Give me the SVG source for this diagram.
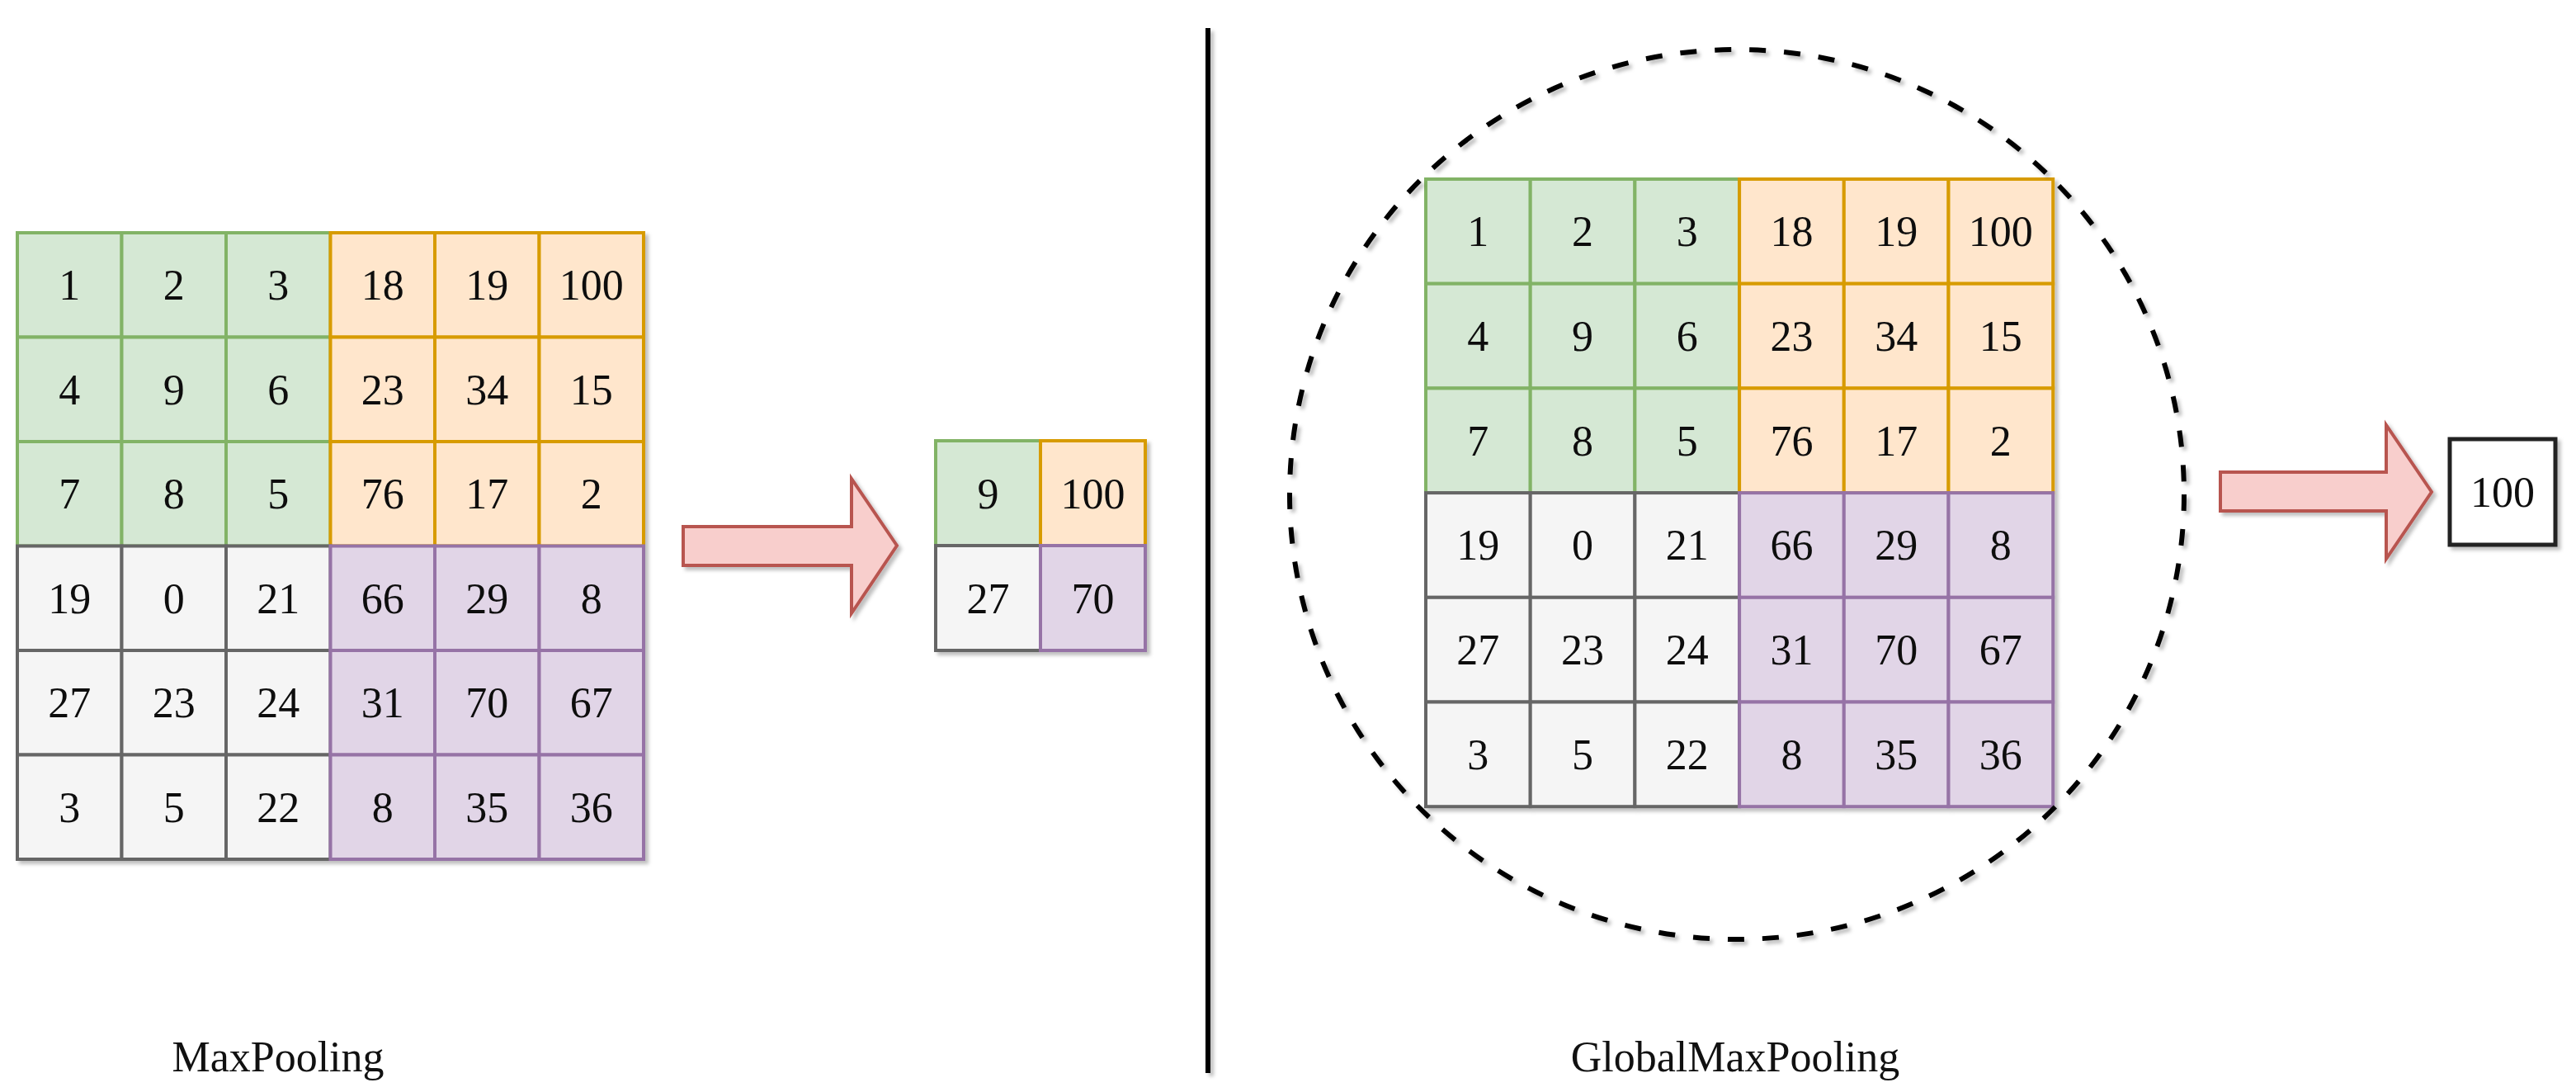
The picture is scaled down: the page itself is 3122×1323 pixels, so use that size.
<svg xmlns="http://www.w3.org/2000/svg" width="3122" height="1323" viewBox="0 0 3122 1323">
<style>
.g{fill:#d5e8d4;stroke:#82b366;stroke-width:4}
.o{fill:#ffe6cc;stroke:#d79b00;stroke-width:4}
.s{fill:#f5f5f5;stroke:#666666;stroke-width:4}
.p{fill:#e1d5e7;stroke:#9673a6;stroke-width:4}
.w{fill:#ffffff;stroke:#222222;stroke-width:5}
.t{font-family:"Liberation Serif","Times New Roman",serif;font-size:52px;fill:#111111;text-anchor:middle}
.arr{fill:#f8cecc;stroke:#b85450;stroke-width:4;stroke-linejoin:miter}
</style>
<defs>
<filter id="sh" x="-5%" y="-5%" width="115%" height="115%">
<feDropShadow dx="4" dy="4" stdDeviation="2" flood-color="#000" flood-opacity="0.25"/>
</filter>
<filter id="shl" filterUnits="userSpaceOnUse" x="1440" y="20" width="50" height="1300">
<feDropShadow dx="4" dy="4" stdDeviation="2" flood-color="#000" flood-opacity="0.25"/>
</filter>
</defs>
<rect width="3122" height="1323" fill="#ffffff"/>

<!-- Left 6x6 grid -->
<g id="grid-left" filter="url(#sh)">
<g id="L11"><rect class="g" x="21" y="282" width="126.5" height="126.5"/><text class="t" x="84.25" y="363">1</text></g>
<g id="L12"><rect class="g" x="147.5" y="282" width="126.5" height="126.5"/><text class="t" x="210.75" y="363">2</text></g>
<g id="L13"><rect class="g" x="274" y="282" width="126.5" height="126.5"/><text class="t" x="337.25" y="363">3</text></g>
<g id="L21"><rect class="g" x="21" y="408.5" width="126.5" height="126.5"/><text class="t" x="84.25" y="490">4</text></g>
<g id="L22"><rect class="g" x="147.5" y="408.5" width="126.5" height="126.5"/><text class="t" x="210.75" y="490">9</text></g>
<g id="L23"><rect class="g" x="274" y="408.5" width="126.5" height="126.5"/><text class="t" x="337.25" y="490">6</text></g>
<g id="L31"><rect class="g" x="21" y="535" width="126.5" height="126.5"/><text class="t" x="84.25" y="616">7</text></g>
<g id="L32"><rect class="g" x="147.5" y="535" width="126.5" height="126.5"/><text class="t" x="210.75" y="616">8</text></g>
<g id="L33"><rect class="g" x="274" y="535" width="126.5" height="126.5"/><text class="t" x="337.25" y="616">5</text></g>
<g id="L14"><rect class="o" x="400.5" y="282" width="126.5" height="126.5"/><text class="t" x="463.75" y="363">18</text></g>
<g id="L15"><rect class="o" x="527" y="282" width="126.5" height="126.5"/><text class="t" x="590.25" y="363">19</text></g>
<g id="L16"><rect class="o" x="653.5" y="282" width="126.5" height="126.5"/><text class="t" x="716.75" y="363">100</text></g>
<g id="L24"><rect class="o" x="400.5" y="408.5" width="126.5" height="126.5"/><text class="t" x="463.75" y="490">23</text></g>
<g id="L25"><rect class="o" x="527" y="408.5" width="126.5" height="126.5"/><text class="t" x="590.25" y="490">34</text></g>
<g id="L26"><rect class="o" x="653.5" y="408.5" width="126.5" height="126.5"/><text class="t" x="716.75" y="490">15</text></g>
<g id="L34"><rect class="o" x="400.5" y="535" width="126.5" height="126.5"/><text class="t" x="463.75" y="616">76</text></g>
<g id="L35"><rect class="o" x="527" y="535" width="126.5" height="126.5"/><text class="t" x="590.25" y="616">17</text></g>
<g id="L36"><rect class="o" x="653.5" y="535" width="126.5" height="126.5"/><text class="t" x="716.75" y="616">2</text></g>
<g id="L41"><rect class="s" x="21" y="661.5" width="126.5" height="126.5"/><text class="t" x="84.25" y="743">19</text></g>
<g id="L42"><rect class="s" x="147.5" y="661.5" width="126.5" height="126.5"/><text class="t" x="210.75" y="743">0</text></g>
<g id="L43"><rect class="s" x="274" y="661.5" width="126.5" height="126.5"/><text class="t" x="337.25" y="743">21</text></g>
<g id="L51"><rect class="s" x="21" y="788" width="126.5" height="126.5"/><text class="t" x="84.25" y="869">27</text></g>
<g id="L52"><rect class="s" x="147.5" y="788" width="126.5" height="126.5"/><text class="t" x="210.75" y="869">23</text></g>
<g id="L53"><rect class="s" x="274" y="788" width="126.5" height="126.5"/><text class="t" x="337.25" y="869">24</text></g>
<g id="L61"><rect class="s" x="21" y="914.5" width="126.5" height="126.5"/><text class="t" x="84.25" y="996">3</text></g>
<g id="L62"><rect class="s" x="147.5" y="914.5" width="126.5" height="126.5"/><text class="t" x="210.75" y="996">5</text></g>
<g id="L63"><rect class="s" x="274" y="914.5" width="126.5" height="126.5"/><text class="t" x="337.25" y="996">22</text></g>
<g id="L44"><rect class="p" x="400.5" y="661.5" width="126.5" height="126.5"/><text class="t" x="463.75" y="743">66</text></g>
<g id="L45"><rect class="p" x="527" y="661.5" width="126.5" height="126.5"/><text class="t" x="590.25" y="743">29</text></g>
<g id="L46"><rect class="p" x="653.5" y="661.5" width="126.5" height="126.5"/><text class="t" x="716.75" y="743">8</text></g>
<g id="L54"><rect class="p" x="400.5" y="788" width="126.5" height="126.5"/><text class="t" x="463.75" y="869">31</text></g>
<g id="L55"><rect class="p" x="527" y="788" width="126.5" height="126.5"/><text class="t" x="590.25" y="869">70</text></g>
<g id="L56"><rect class="p" x="653.5" y="788" width="126.5" height="126.5"/><text class="t" x="716.75" y="869">67</text></g>
<g id="L64"><rect class="p" x="400.5" y="914.5" width="126.5" height="126.5"/><text class="t" x="463.75" y="996">8</text></g>
<g id="L65"><rect class="p" x="527" y="914.5" width="126.5" height="126.5"/><text class="t" x="590.25" y="996">35</text></g>
<g id="L66"><rect class="p" x="653.5" y="914.5" width="126.5" height="126.5"/><text class="t" x="716.75" y="996">36</text></g>
</g>

<!-- Pooled 2x2 grid -->
<g id="grid-pooled" filter="url(#sh)">
<g id="P11"><rect class="g" x="1134" y="534" width="127" height="127"/><text class="t" x="1197.5" y="616">9</text></g>
<g id="P21"><rect class="s" x="1134" y="661" width="127" height="127"/><text class="t" x="1197.5" y="743">27</text></g>
<g id="P12"><rect class="o" x="1261" y="534" width="127" height="127"/><text class="t" x="1324.5" y="616">100</text></g>
<g id="P22"><rect class="p" x="1261" y="661" width="127" height="127"/><text class="t" x="1324.5" y="743">70</text></g>
</g>

<!-- Right 6x6 grid -->
<g id="grid-right" filter="url(#sh)">
<g id="R11"><rect class="g" x="1728" y="217" width="126.7" height="126.7"/><text class="t" x="1791.35" y="298">1</text></g>
<g id="R12"><rect class="g" x="1854.7" y="217" width="126.7" height="126.7"/><text class="t" x="1918.05" y="298">2</text></g>
<g id="R13"><rect class="g" x="1981.4" y="217" width="126.7" height="126.7"/><text class="t" x="2044.75" y="298">3</text></g>
<g id="R21"><rect class="g" x="1728" y="343.7" width="126.7" height="126.7"/><text class="t" x="1791.35" y="425">4</text></g>
<g id="R22"><rect class="g" x="1854.7" y="343.7" width="126.7" height="126.7"/><text class="t" x="1918.05" y="425">9</text></g>
<g id="R23"><rect class="g" x="1981.4" y="343.7" width="126.7" height="126.7"/><text class="t" x="2044.75" y="425">6</text></g>
<g id="R31"><rect class="g" x="1728" y="470.4" width="126.7" height="126.7"/><text class="t" x="1791.35" y="552">7</text></g>
<g id="R32"><rect class="g" x="1854.7" y="470.4" width="126.7" height="126.7"/><text class="t" x="1918.05" y="552">8</text></g>
<g id="R33"><rect class="g" x="1981.4" y="470.4" width="126.7" height="126.7"/><text class="t" x="2044.75" y="552">5</text></g>
<g id="R14"><rect class="o" x="2108.1" y="217" width="126.7" height="126.7"/><text class="t" x="2171.45" y="298">18</text></g>
<g id="R15"><rect class="o" x="2234.8" y="217" width="126.7" height="126.7"/><text class="t" x="2298.15" y="298">19</text></g>
<g id="R16"><rect class="o" x="2361.5" y="217" width="126.7" height="126.7"/><text class="t" x="2424.85" y="298">100</text></g>
<g id="R24"><rect class="o" x="2108.1" y="343.7" width="126.7" height="126.7"/><text class="t" x="2171.45" y="425">23</text></g>
<g id="R25"><rect class="o" x="2234.8" y="343.7" width="126.7" height="126.7"/><text class="t" x="2298.15" y="425">34</text></g>
<g id="R26"><rect class="o" x="2361.5" y="343.7" width="126.7" height="126.7"/><text class="t" x="2424.85" y="425">15</text></g>
<g id="R34"><rect class="o" x="2108.1" y="470.4" width="126.7" height="126.7"/><text class="t" x="2171.45" y="552">76</text></g>
<g id="R35"><rect class="o" x="2234.8" y="470.4" width="126.7" height="126.7"/><text class="t" x="2298.15" y="552">17</text></g>
<g id="R36"><rect class="o" x="2361.5" y="470.4" width="126.7" height="126.7"/><text class="t" x="2424.85" y="552">2</text></g>
<g id="R41"><rect class="s" x="1728" y="597.1" width="126.7" height="126.7"/><text class="t" x="1791.35" y="678">19</text></g>
<g id="R42"><rect class="s" x="1854.7" y="597.1" width="126.7" height="126.7"/><text class="t" x="1918.05" y="678">0</text></g>
<g id="R43"><rect class="s" x="1981.4" y="597.1" width="126.7" height="126.7"/><text class="t" x="2044.75" y="678">21</text></g>
<g id="R51"><rect class="s" x="1728" y="723.8" width="126.7" height="126.7"/><text class="t" x="1791.35" y="805">27</text></g>
<g id="R52"><rect class="s" x="1854.7" y="723.8" width="126.7" height="126.7"/><text class="t" x="1918.05" y="805">23</text></g>
<g id="R53"><rect class="s" x="1981.4" y="723.8" width="126.7" height="126.7"/><text class="t" x="2044.75" y="805">24</text></g>
<g id="R61"><rect class="s" x="1728" y="850.5" width="126.7" height="126.7"/><text class="t" x="1791.35" y="932">3</text></g>
<g id="R62"><rect class="s" x="1854.7" y="850.5" width="126.7" height="126.7"/><text class="t" x="1918.05" y="932">5</text></g>
<g id="R63"><rect class="s" x="1981.4" y="850.5" width="126.7" height="126.7"/><text class="t" x="2044.75" y="932">22</text></g>
<g id="R44"><rect class="p" x="2108.1" y="597.1" width="126.7" height="126.7"/><text class="t" x="2171.45" y="678">66</text></g>
<g id="R45"><rect class="p" x="2234.8" y="597.1" width="126.7" height="126.7"/><text class="t" x="2298.15" y="678">29</text></g>
<g id="R46"><rect class="p" x="2361.5" y="597.1" width="126.7" height="126.7"/><text class="t" x="2424.85" y="678">8</text></g>
<g id="R54"><rect class="p" x="2108.1" y="723.8" width="126.7" height="126.7"/><text class="t" x="2171.45" y="805">31</text></g>
<g id="R55"><rect class="p" x="2234.8" y="723.8" width="126.7" height="126.7"/><text class="t" x="2298.15" y="805">70</text></g>
<g id="R56"><rect class="p" x="2361.5" y="723.8" width="126.7" height="126.7"/><text class="t" x="2424.85" y="805">67</text></g>
<g id="R64"><rect class="p" x="2108.1" y="850.5" width="126.7" height="126.7"/><text class="t" x="2171.45" y="932">8</text></g>
<g id="R65"><rect class="p" x="2234.8" y="850.5" width="126.7" height="126.7"/><text class="t" x="2298.15" y="932">35</text></g>
<g id="R66"><rect class="p" x="2361.5" y="850.5" width="126.7" height="126.7"/><text class="t" x="2424.85" y="932">36</text></g>
</g>

<!-- Global max output -->
<g id="out-global" filter="url(#sh)">
<rect class="w" x="2969" y="532" width="128" height="128"/>
<text class="t" x="3033" y="614">100</text>
</g>

<!-- Dashed circle around right grid -->
<g id="scope-circle" filter="url(#sh)">
<ellipse cx="2105" cy="599" rx="542" ry="539" fill="none" stroke="#000000" stroke-width="6" stroke-dasharray="20 22"/>
</g>

<!-- Divider -->
<g id="divider" filter="url(#shl)">
<rect x="1461" y="34" width="6" height="1266" fill="#000000"/>
</g>

<!-- Connectors (block arrows) -->
<g id="connectors" filter="url(#sh)">
<polygon class="arr" points="828,638 1032,638 1032,580 1087,661 1032,743 1032,685 828,685"/>
<polygon class="arr" points="2691,572 2892,572 2892,515 2947,596 2892,677 2892,619 2691,619"/>
</g>

<!-- Labels -->
<g id="label-max"><text class="t" x="337" y="1298">MaxPooling</text></g>
<g id="label-global"><text class="t" x="2103" y="1298">GlobalMaxPooling</text></g>
</svg>
